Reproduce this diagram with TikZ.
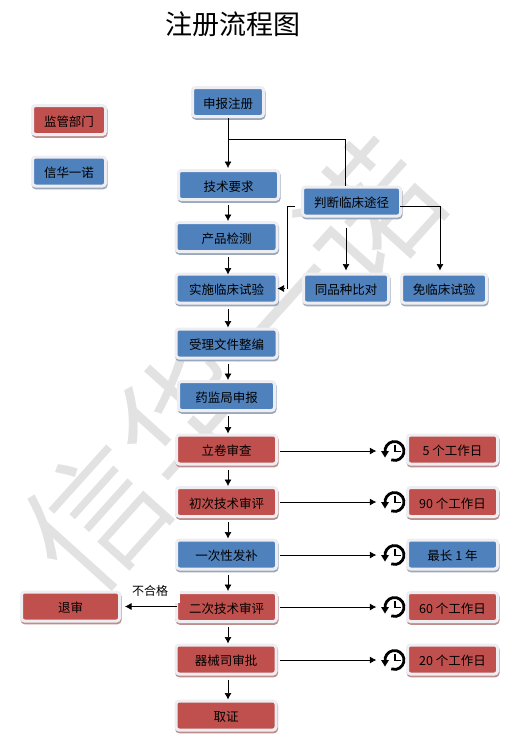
\documentclass[tikz,border=0pt]{standalone}
\usepackage{fontspec}
\setmainfont{Noto Sans CJK SC}
\newfontfamily\markfont{Noto Sans CJK SC DemiLight}
\usetikzlibrary{arrows.meta,shadows}
\definecolor{BoxBlue}{RGB}{79,129,189}
\definecolor{BoxRed}{RGB}{192,80,77}
\definecolor{ShadeBlue}{RGB}{154,168,188}
\definecolor{ShadeRed}{RGB}{188,142,142}
\definecolor{HaloGray}{RGB}{238,238,242}
\definecolor{MarkGray}{RGB}{226,226,226}
\tikzset{
  flowbox/.style={rectangle,rounded corners=3pt,draw=HaloGray,line width=3pt,text=black,
    inner sep=0pt,minimum height=29pt,text height=12pt,text depth=0pt,font=\fontsize{12.5}{15}\selectfont},
  bluebox/.style={flowbox,fill=BoxBlue,general shadow={fill=ShadeBlue,draw=ShadeBlue,line width=3pt,shadow xshift=.6pt,shadow yshift=-1.8pt}},
  redbox/.style={flowbox,fill=BoxRed,general shadow={fill=ShadeRed,draw=ShadeRed,line width=3pt,shadow xshift=.6pt,shadow yshift=-1.8pt}},
  clockspot/.style={minimum size=36pt,inner sep=0pt},
  flowline/.style={black,line width=.7pt},
  flowarrow/.style={flowline,-{Latex[length=6.5pt,width=7pt]}},
  downarrow/.style={flowarrow,shorten <=4pt},
  timearrow/.style={flowarrow,shorten <=2pt},
  clockicon/.pic={
    \draw[black,line width=2.8pt] (190:9.5pt) arc (190:-110:9.5pt);
    \fill[black] (-13.5pt,0pt) -- (-5.5pt,0pt) -- (-9.5pt,-6.5pt) -- cycle;
    \draw[black,line width=1.9pt] (0.5pt,6pt) -- (0.5pt,-.5pt) -- (6pt,-.5pt);
  },
}
\begin{document}
\begin{tikzpicture}[x=1pt,y=-1pt,>=Latex]
  \useasboundingbox (0,0) rectangle (515,748);
  % watermark
  \node[MarkGray,rotate=48,font=\markfont\fontsize{136}{136}\selectfont] (markText) at (232,365) {信华一诺};
  \node[font=\fontsize{27}{30}\selectfont] (titleText) at (233,24) {注册流程图};
  % legend
  \node[redbox,minimum width=73pt] (legendRed) at (69,120) {监管部门};
  \node[bluebox,minimum width=73pt] (legendBlue) at (69,171.5) {信华一诺};
  % main column
  \node[bluebox,minimum width=71pt] (apply) at (228,102) {申报注册};
  \node[bluebox,minimum width=100pt] (techReq) at (228.5,185) {技术要求};
  \node[bluebox,minimum width=101pt] (prodTest) at (226.5,237) {产品检测};
  \node[bluebox,minimum width=101pt] (trial) at (226.5,288.5) {实施临床试验};
  \node[bluebox,minimum width=101pt] (compile) at (226.5,343.5) {受理文件整编};
  \node[bluebox,minimum width=96pt] (report) at (226.5,396) {药监局申报};
  \node[redbox,minimum width=100pt] (filing) at (226.5,449.5) {立卷审查};
  \node[redbox,minimum width=100pt] (firstRev) at (226.5,502) {初次技术审评};
  \node[bluebox,minimum width=100pt] (supply) at (226.5,554.5) {一次性发补};
  \node[redbox,minimum width=100pt] (secondRev) at (226.5,607) {二次技术审评};
  \node[redbox,minimum width=100pt] (approve) at (226,659.5) {器械司审批};
  \node[redbox,minimum width=100pt] (license) at (226,715.5) {取证};
  \node[redbox,minimum width=98pt] (reject) at (70.5,606.5) {退审};
  % clinical path
  \node[bluebox,minimum width=98pt] (clinical) at (351.5,201.5) {判断临床途径};
  \node[bluebox,minimum width=85pt] (samekind) at (346,288.5) {同品种比对};
  \node[bluebox,minimum width=85pt] (exempt) at (444,288.5) {免临床试验};
  % time limits
  \node[redbox,minimum width=90pt] (dayA) at (452.5,449.5) {5 个工作日};
  \node[redbox,minimum width=90pt] (dayB) at (452.5,502) {90 个工作日};
  \node[bluebox,minimum width=90pt] (dayC) at (452.5,554.5) {最长 1 年};
  \node[redbox,minimum width=90pt] (dayD) at (452.5,607) {60 个工作日};
  \node[redbox,minimum width=90pt] (dayE) at (452.5,659.5) {20 个工作日};
  \node[clockspot] (clockA) at (394.5,451) {};
  \node[clockspot] (clockB) at (394.5,502) {};
  \node[clockspot] (clockC) at (394.5,555) {};
  \node[clockspot] (clockD) at (394.5,607) {};
  \node[clockspot] (clockE) at (394.5,660) {};
  \pic at (clockA) {clockicon};
  \pic at (clockB) {clockicon};
  \pic at (clockC) {clockicon};
  \pic at (clockD) {clockicon};
  \pic at (clockE) {clockicon};
  % connectors
  \coordinate (colX) at (228,0);
  \coordinate (elbowTop) at (345,139);
  \coordinate (elbowLeft) at (287,206);
  \coordinate (elbowRight) at (440,206);
  \draw[flowarrow,shorten >=1pt] (apply.south) -- (techReq.north -| apply);
  \draw[flowline] (apply.south |- elbowTop) -- (elbowTop) -- (elbowTop |- clinical.north);
  \draw[downarrow] (techReq.south -| colX) -- (prodTest.north -| colX);
  \draw[downarrow,shorten >=-2pt] (prodTest.south -| colX) -- (trial.north -| colX);
  \draw[downarrow] (trial.south -| colX) -- (compile.north -| colX);
  \draw[downarrow] (compile.south -| colX) -- (report.north -| colX);
  \draw[downarrow] (report.south -| colX) -- (filing.north -| colX);
  \draw[downarrow] (filing.south -| colX) -- (firstRev.north -| colX);
  \draw[downarrow] (firstRev.south -| colX) -- (supply.north -| colX);
  \draw[downarrow] (supply.south -| colX) -- (secondRev.north -| colX);
  \draw[downarrow] (secondRev.south -| colX) -- (approve.north -| colX);
  \draw[downarrow] (approve.south -| colX) -- (license.north -| colX);
  \draw[flowline,shorten <=6pt] (clinical.west |- elbowLeft) -- (elbowLeft) -- (elbowLeft |- trial);
  \draw[flowarrow,shorten <=2pt,shorten >=-1pt] (elbowLeft |- trial) -- (trial.east);
  \draw[flowarrow,shorten <=10pt,shorten >=2pt] (clinical.south -| samekind) -- (samekind.north);
  \draw[flowline,shorten <=-2pt] (clinical.east |- elbowRight) -- (elbowRight);
  \draw[flowarrow,shorten >=2pt] (elbowRight) -- (elbowRight |- exempt.north);
  \draw[timearrow] (filing.east |- clockA) -- (clockA.west);
  \draw[timearrow] (firstRev.east |- clockB) -- (clockB.west);
  \draw[timearrow] (supply.east |- clockC) -- (clockC.west);
  \draw[timearrow] (secondRev.east |- clockD) -- (clockD.west);
  \draw[timearrow] (approve.east |- clockE) -- (clockE.west);
  \draw[flowarrow,shorten <=-2pt,shorten >=4pt] (secondRev.west |- reject) -- (reject.east);
  \node[fill=white,minimum width=50pt,minimum height=24pt,inner sep=0pt,align=left,
    font=\fontsize{12}{14}\selectfont] (failText) at (155,591) {不合格\hspace{10pt}};
\end{tikzpicture}
\end{document}
